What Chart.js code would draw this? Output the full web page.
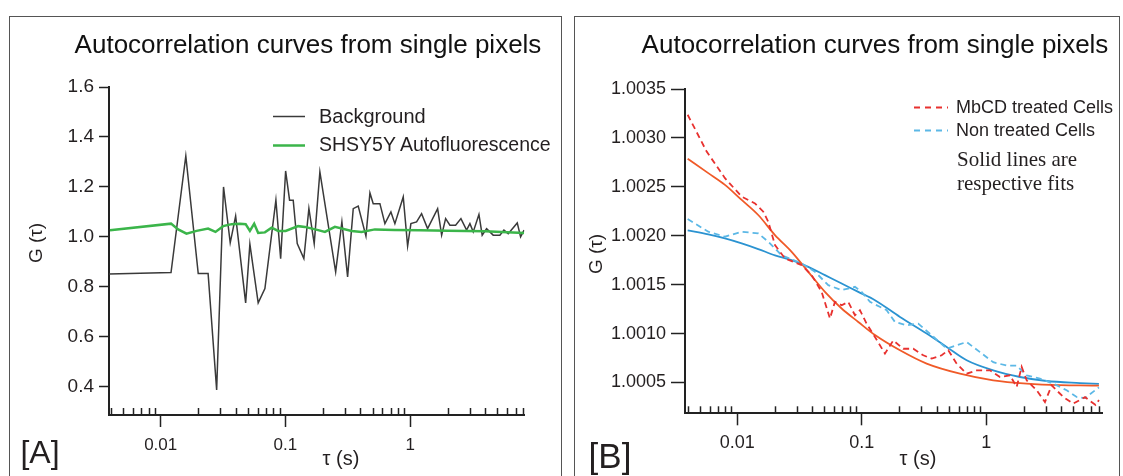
<!DOCTYPE html>
<html>
<head>
<meta charset="utf-8">
<script src="https://cdn.jsdelivr.net/npm/chart.js@4.4.1/dist/chart.umd.min.js"></script>
<style>
  body { margin: 0; background: #fff; width: 1123px; height: 476px; overflow: hidden; position: relative;
         font-family: "Liberation Sans", Arial, sans-serif; color: #231f20; }
  .panel { position: absolute; top: 16px; height: 480px; border: 1.5px solid #555; box-sizing: border-box; }
  canvas { position: absolute; top: 0; }
  .txt { position: absolute; white-space: nowrap; line-height: 1; }
  .c { transform: translate(-50%, -50%); }
  .l { transform: translateY(-50%); }
  .rot { transform: translate(-50%, -50%) rotate(-90deg); }
  .title { font-size: 26px; color: #111; }
  .serif { font-family: "Liberation Serif", "DejaVu Serif", serif; font-size: 21px; }
  svg { position: absolute; left: 0; top: 0; }
</style>
</head>
<body>
<div class="panel" style="left:9px; width:553px;"></div>
<div class="panel" style="left:574px; width:546px;"></div>

<canvas id="chartA" width="566" height="476" style="left:0px;"></canvas>
<canvas id="chartB" width="557" height="476" style="left:566px;"></canvas>

<svg width="1123" height="476">
  <line x1="273" y1="116.5" x2="305" y2="116.5" stroke="#3a3a3a" stroke-width="1.5"/>
  <line x1="273" y1="145.5" x2="305" y2="145.5" stroke="#3bb54a" stroke-width="2.5"/>
  <line x1="914" y1="107.5" x2="948" y2="107.5" stroke="#e8312f" stroke-width="2" stroke-dasharray="6,5"/>
  <line x1="914" y1="130.5" x2="948" y2="130.5" stroke="#5cb8e6" stroke-width="2" stroke-dasharray="6,5"/>
</svg>

<!-- panel A texts -->
<div class="txt c title" style="left:308px; top:44px;">Autocorrelation curves from single pixels</div>
<div class="txt l" style="left:319px; top:116px; font-size:20px;">Background</div>
<div class="txt l" style="left:319px; top:145px; font-size:19.5px;">SHSY5Y Autofluorescence</div>
<div class="txt rot" style="left:35px; top:243px; font-size:19px;">G (τ)</div>
<div class="txt c" style="left:341px; top:458px; font-size:20px;">τ (s)</div>
<div class="txt c" style="left:40px; top:452px; font-size:32px;">[A]</div>

<!-- panel B texts -->
<div class="txt c title" style="left:875px; top:44px;">Autocorrelation curves from single pixels</div>
<div class="txt l" style="left:956px; top:107px; font-size:18px;">MbCD treated Cells</div>
<div class="txt l" style="left:956px; top:130px; font-size:18px;">Non treated Cells</div>
<div class="txt l serif" style="left:957px; top:159px;">Solid lines are</div>
<div class="txt l serif" style="left:957px; top:183px;">respective fits</div>
<div class="txt rot" style="left:595px; top:254px; font-size:19px;">G (τ)</div>
<div class="txt c" style="left:918px; top:458px; font-size:20px;">τ (s)</div>
<div class="txt c" style="left:610px; top:455px; font-size:35px;">[B]</div>

<script>
// ---- panel A data: single pixel curves ----
const bgTau = [0.00384, 0.0121, 0.0159, 0.0200, 0.0240, 0.0281, 0.0319, 0.0361, 0.0399, 0.0480,
  0.0519, 0.0605, 0.0685, 0.0839, 0.0916, 0.1004, 0.108, 0.1155, 0.1244, 0.1406,
  0.1543, 0.1702, 0.189, 0.2529, 0.2838, 0.3153, 0.3499, 0.3836, 0.4424, 0.4763,
  0.5061, 0.5726, 0.6281, 0.7015, 0.7551, 0.8808, 0.9549, 1.015, 1.127, 1.236,
  1.381, 1.662, 1.790, 1.927, 2.085, 2.317, 2.556, 2.837, 3.017, 3.207,
  3.564, 3.785, 4.105, 4.637, 5.248, 5.651, 6.12, 7.23, 7.69, 8.2];
const bgG = [0.851, 0.857, 1.324, 0.853, 0.853, 0.387, 1.2, 0.976, 1.083, 0.736,
  0.971, 0.736, 0.793, 1.147, 0.913, 1.264, 1.147, 1.147, 0.973, 0.913,
  1.114, 0.973, 1.26, 0.86, 1.06, 0.84, 1.113, 1.123, 1.003, 1.176,
  1.133, 1.133, 1.053, 1.1, 1.053, 1.16, 0.963, 1.053, 1.06, 1.093,
  1.033, 1.113, 1.007, 1.073, 1.047, 1.047, 1.073, 1.027, 1.053, 1.02,
  1.09, 1.007, 1.033, 1.007, 1.007, 1.027, 1.013, 1.056, 1.0, 1.027];

const afTau = [0.00392, 0.0121, 0.0138, 0.0161, 0.0194, 0.024, 0.0275, 0.0317, 0.0371, 0.0432,
  0.048, 0.0519, 0.0562, 0.0605, 0.0685, 0.0775, 0.0875, 0.1004, 0.1267, 0.1433,
  0.1832, 0.2073, 0.2494, 0.3396, 0.4085, 0.5222, 0.75, 1.2, 2.0, 3.98, 8.2];
const afG = [1.027, 1.053, 1.03, 1.013, 1.024, 1.033, 1.02, 1.043, 1.051, 1.053,
  1.051, 1.024, 1.053, 1.016, 1.018, 1.037, 1.024, 1.024, 1.043, 1.04,
  1.027, 1.02, 1.04, 1.024, 1.02, 1.03, 1.028, 1.027, 1.025, 1.023, 1.016];

// ---- panel B data: MbCD treated vs non treated ----
const mbTau = [0.004003, 0.005689, 0.00798, 0.01087, 0.0139, 0.01621, 0.01778, 0.02012, 0.02421, 0.03298,
  0.03966, 0.04771, 0.05561, 0.061, 0.06905, 0.07804, 0.08831, 0.0969, 0.1097, 0.1279,
  0.1538, 0.1794, 0.2159, 0.2597, 0.3125, 0.365, 0.4392, 0.4963, 0.5796, 0.6972,
  0.8389, 1.073, 1.291, 1.553, 1.758, 1.928, 2.115, 2.545, 2.967, 3.359,
  4.162, 5.01, 6.22, 7.57, 8.05];
const mbG = [1.003237, 1.00286, 1.002588, 1.0024, 1.00233, 1.002246, 1.002143, 1.001905, 1.001768, 1.0017,
  1.001597, 1.001426, 1.001154, 1.001324, 1.00129, 1.001324, 1.001187, 1.001239, 1.0011, 1.000965,
  1.000795, 1.00093, 1.000845, 1.000845, 1.000778, 1.000744, 1.000778, 1.00083, 1.000693, 1.00059,
  1.000624, 1.000624, 1.000556, 1.000573, 1.000454, 1.00066, 1.000522, 1.00042, 1.0003, 1.00047,
  1.000352, 1.000284, 1.00035, 1.00027, 1.00032];

const mbFitTau = [0.004003, 0.005861, 0.00798, 0.01087, 0.01476, 0.02012, 0.02739, 0.03725, 0.0507, 0.06905,
  0.09392, 0.1279, 0.2031, 0.3326, 0.6159, 1.14, 2.115, 3.915, 5.67, 8.05];
const mbFitG = [1.002786, 1.00264, 1.00252, 1.002366, 1.002212, 1.002007, 1.001836, 1.001631, 1.001426, 1.001256,
  1.001119, 1.000985, 1.000829, 1.000693, 1.00059, 1.000522, 1.000488, 1.000472, 1.00047, 1.000468];

const ntTau = [0.004003, 0.005861, 0.00798, 0.01087, 0.01476, 0.01778, 0.02277, 0.03298, 0.04217, 0.05393,
  0.06905, 0.08831, 0.1, 0.1166, 0.1588, 0.185, 0.2298, 0.2849, 0.365, 0.4816,
  0.5796, 0.6972, 0.8917, 1.14, 1.461, 1.758, 2.115, 2.705, 3.461, 4.432,
  5.33, 6.22, 8.05];
const ntG = [1.002171, 1.002041, 1.00199, 1.002041, 1.002024, 1.001939, 1.0018, 1.001717, 1.001631, 1.001495,
  1.001444, 1.001478, 1.001426, 1.001324, 1.001239, 1.001119, 1.001085, 1.001102, 1.000983, 1.000846,
  1.00088, 1.000914, 1.00081, 1.000707, 1.000673, 1.000673, 1.000573, 1.000539, 1.000488, 1.00042,
  1.000352, 1.00034, 1.00045];

const ntFitTau = [0.004003, 0.005861, 0.00798, 0.01087, 0.01476, 0.02012, 0.02739, 0.03725, 0.0507, 0.06905,
  0.09392, 0.1279, 0.2031, 0.3326, 0.4816, 0.6972, 1.14, 1.868, 3.063, 5.67, 8.05];
const ntFitG = [1.002055, 1.002014, 1.001973, 1.001922, 1.001864, 1.0018, 1.00175, 1.001682, 1.001597, 1.001512,
  1.001426, 1.001341, 1.00117, 1.001, 1.000863, 1.000727, 1.000624, 1.000556, 1.000515, 1.000494, 1.000485];

// ---- axis ticks ----
const tauTicks = [0.004, 0.005, 0.006, 0.007, 0.008, 0.009, 0.01, 0.02, 0.03, 0.04, 0.05, 0.06, 0.07, 0.08, 0.09,
  0.1, 0.2, 0.3, 0.4, 0.5, 0.6, 0.7, 0.8, 0.9, 1, 2, 3, 4, 5, 6, 7, 8];
const tauMajor = [0.01, 0.1, 1];
const tauMajorLabels = ["0.01", "0.1", "1"];
const gTicksA = [0.4, 0.6, 0.8, 1.0, 1.2, 1.4, 1.6];
const gTicksB = [1.0005, 1.0010, 1.0015, 1.0020, 1.0025, 1.0030, 1.0035];

Chart.defaults.font.family = '"Liberation Sans", Arial, sans-serif';
Chart.defaults.color = "#231f20";

const toPoints = (xs, ys) => xs.map((x, i) => ({ x: x, y: ys[i] }));

// minor log ticks point up into the plot, majors point down
const minorTicks = {
	id: "minorTicks",
	afterDraw(chart) {
		const { ctx, chartArea } = chart;
		const x = chart.scales.x;
		ctx.save();
		ctx.strokeStyle = "#222";
		ctx.lineWidth = 1.5;
		x.ticks.forEach((t) => {
			if (tauMajor.includes(t.value)) return;
			const px = Math.round(x.getPixelForValue(t.value)) + 0.5;
			ctx.beginPath();
			ctx.moveTo(px, chartArea.bottom);
			ctx.lineTo(px, chartArea.bottom - 7);
			ctx.stroke();
		});
		ctx.restore();
	},
};

function makeChart(id, datasets, cfg) {
	return new Chart(document.getElementById(id), {
		type: "line",
		data: { datasets: datasets },
		plugins: [minorTicks],
		options: {
			responsive: false,
			animation: false,
			devicePixelRatio: 1,
			events: [],
			layout: { padding: cfg.padding },
			elements: { point: { radius: 0 } },
			plugins: { legend: { display: false }, tooltip: { enabled: false } },
			scales: {
				x: {
					type: "logarithmic",
					min: cfg.xMin,
					max: cfg.xMax,
					afterBuildTicks: (s) => { s.ticks = tauTicks.map((v) => ({ value: v })); },
					afterFit: (s) => { s.height = 50; },
					grid: {
						drawOnChartArea: false,
						tickLength: 12,
						tickWidth: 1.5,
						tickColor: (c) => (c.tick && tauMajor.includes(c.tick.value) ? "#222" : "rgba(0,0,0,0)"),
					},
					border: { color: "#222", width: 2 },
					ticks: {
						autoSkip: false,
						maxRotation: 0,
						padding: cfg.xPad,
						font: { size: cfg.xFont },
						callback: (v) => {
							const k = tauMajor.indexOf(v);
							return k >= 0 ? tauMajorLabels[k] : "";
						},
					},
				},
				y: {
					min: cfg.yMin,
					max: cfg.yMax,
					afterBuildTicks: (s) => { s.ticks = cfg.yTicks.map((v) => ({ value: v })); },
					afterFit: (s) => { s.width = 100; },
					grid: { drawOnChartArea: false, tickLength: cfg.yTickLen, tickWidth: 1.5, tickColor: "#222" },
					border: { color: "#222", width: 2 },
					ticks: {
						padding: 5,
						font: { size: cfg.yFont },
						callback: (v) => v.toFixed(cfg.yDigits),
					},
				},
			},
		},
	});
}

makeChart("chartA", [
	{ data: toPoints(afTau, afG), borderColor: "#3bb54a", borderWidth: 2.5, tension: 0 },
	{ data: toPoints(bgTau, bgG), borderColor: "#3a3a3a", borderWidth: 1.5, tension: 0 },
], {
	padding: { left: 9, right: 41.6, top: 87, bottom: 11 },
	xMin: 0.00385, xMax: 8.25, xPad: 8, xFont: 17,
	yMin: 0.287, yMax: 1.6, yTicks: gTicksA, yDigits: 1, yTickLen: 10, yFont: 19,
});

makeChart("chartB", [
	{ data: toPoints(mbTau, mbG), borderColor: "#e8312f", borderWidth: 1.8, borderDash: [6, 4], tension: 0 },
	{ data: toPoints(ntTau, ntG), borderColor: "#5cb8e6", borderWidth: 1.8, borderDash: [6, 4], tension: 0 },
	{ data: toPoints(mbFitTau, mbFitG), borderColor: "#f05a28", borderWidth: 1.8, cubicInterpolationMode: "monotone" },
	{ data: toPoints(ntFitTau, ntFitG), borderColor: "#2b93d1", borderWidth: 1.8, cubicInterpolationMode: "monotone" },
], {
	padding: { left: 19, right: 20.5, top: 89, bottom: 12.7 },
	xMin: 0.00381, xMax: 8.6, xPad: 7, xFont: 18,
	yMin: 1.000185, yMax: 1.0035, yTicks: gTicksB, yDigits: 4, yTickLen: 14, yFont: 18,
});
</script>
</body>
</html>
